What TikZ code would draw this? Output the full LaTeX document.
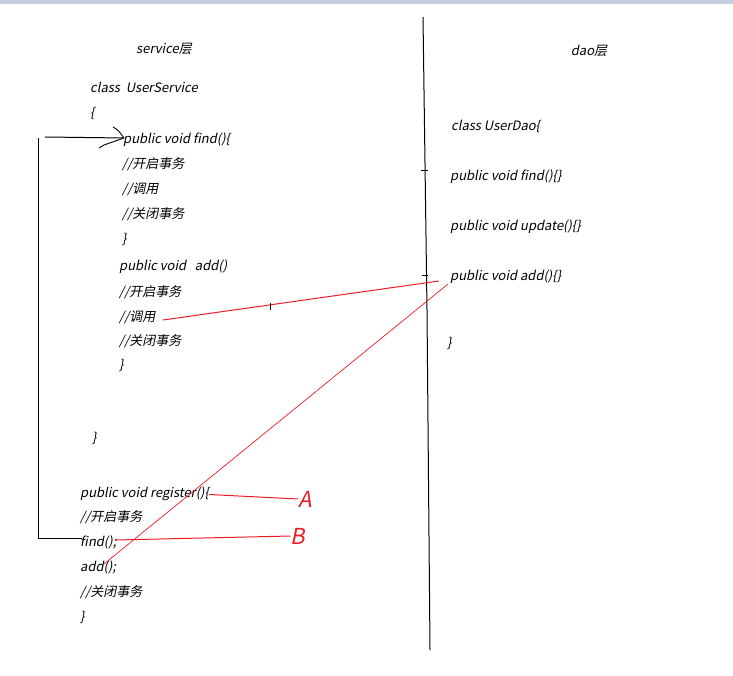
\documentclass[tikz,border=0pt]{standalone}
\usepackage{fontspec}
\setmainfont{Noto Sans CJK SC}[FakeSlant=0.2]
\usetikzlibrary{positioning}
\definecolor{barblue}{RGB}{196,207,224}
\definecolor{penred}{RGB}{237,28,36}
\tikzset{
	code/.style={anchor=west, inner sep=0pt, yshift=-2.5pt, font=\fontsize{13}{15}\selectfont, text height=9pt, text depth=3pt},
	pen/.style={black, line width=1pt},
	redpen/.style={penred, line width=1pt},
	letter/.style={penred, inner sep=0pt, font=\fontsize{22}{24}\selectfont}
}

\begin{document}
\begin{tikzpicture}[x=1pt, y=-1pt]
	\useasboundingbox (0, 0) rectangle (733, 676);
	\fill[barblue] (0, 0) rectangle (733, 4);
	% service side
	\node[code, anchor=center] (svc) at (164, 48) {service层};
	\node[code] (cls) at (90, 87) {class\ \ UserService};
	\node[code] (open) at (90, 112) {\{};
	\node[code] (find) at (123, 138) {public void find()\{};
	\node[code] (find1) at (122, 163) {//开启事务};
	\node[code] (find2) at (122, 188) {//调用};
	\node[code] (find3) at (122, 213) {//关闭事务};
	\node[code] (findend) at (122, 238) {\}};
	\node[code] (add) at (119, 265) {public void\ \ \ add()};
	\node[code] (add1) at (119, 291) {//开启事务};
	\node[code] (add2) at (119, 316) {//调用};
	\node[code] (add3) at (119, 340) {//关闭事务};
	\node[code] (addend) at (119, 364) {\}};
	\node[code] (close) at (92, 437) {\}};
	\node[code] (reg) at (80, 492) {public void register()\{};
	\node[code] (reg1) at (80, 516) {//开启事务};
	\node[code] (reg2) at (80, 541) {find();};
	\node[code] (reg3) at (80, 566) {add();};
	\node[code] (reg4) at (80, 591) {//关闭事务};
	\node[code] (regend) at (80, 616) {\}};
	% dao side
	\node[code, anchor=center] (dao) at (589, 50) {dao层};
	\node[code] (dcls) at (451, 125) {class UserDao\{};
	\node[code] (dfind) at (450, 175) {public void find()\{\}};
	\node[code] (dupd) at (450, 225) {public void update()\{\}};
	\node[code] (dadd) at (450, 275) {public void add()\{\}};
	\node[code] (dend) at (447, 342) {\}};
	% divider
	\draw[pen] (423, 17)--(427, 310)--(430, 650);
	\draw[black, line width=0.8pt] (421, 170)--(428, 170);
	\draw[black, line width=0.6pt] (422, 275)--(428, 275);
	% loop back to find
	\coordinate (looptop) at (38, 138);
	\coordinate (loopend) at (82, 538);
	\coordinate (tail) at (45, 137);
	\coordinate (tip) at (124, 138);
	\draw[pen] (loopend)-|(looptop);
	\draw[pen] (tail)--(tip);
	\draw[black, line width=0.9pt] (113, 127)..controls (118, 130)..(tip);
	\draw[black, line width=0.9pt] (99, 148)--(104, 145)--(tip);
	% red marks
	\coordinate (callfrom) at (163, 320);
	\coordinate (callto) at (439, 281);
	\coordinate (addfrom) at (448, 284);
	\coordinate (addto) at (104, 564);
	\coordinate (bfrom) at (115, 540);
	\draw[redpen] (callfrom)--(callto);
	\draw[black, line width=0.8pt] (270, 303)--(270, 310);
	\draw[penred, line width=0.7pt] (addfrom)--(addto);
	\node[letter] (A) at (305, 499) {A};
	\node[letter] (B) at (298, 536) {B};
	\draw[redpen] (reg.east)--(A.west);
	\draw[redpen] (bfrom)--(B.west);
\end{tikzpicture}
\end{document}
